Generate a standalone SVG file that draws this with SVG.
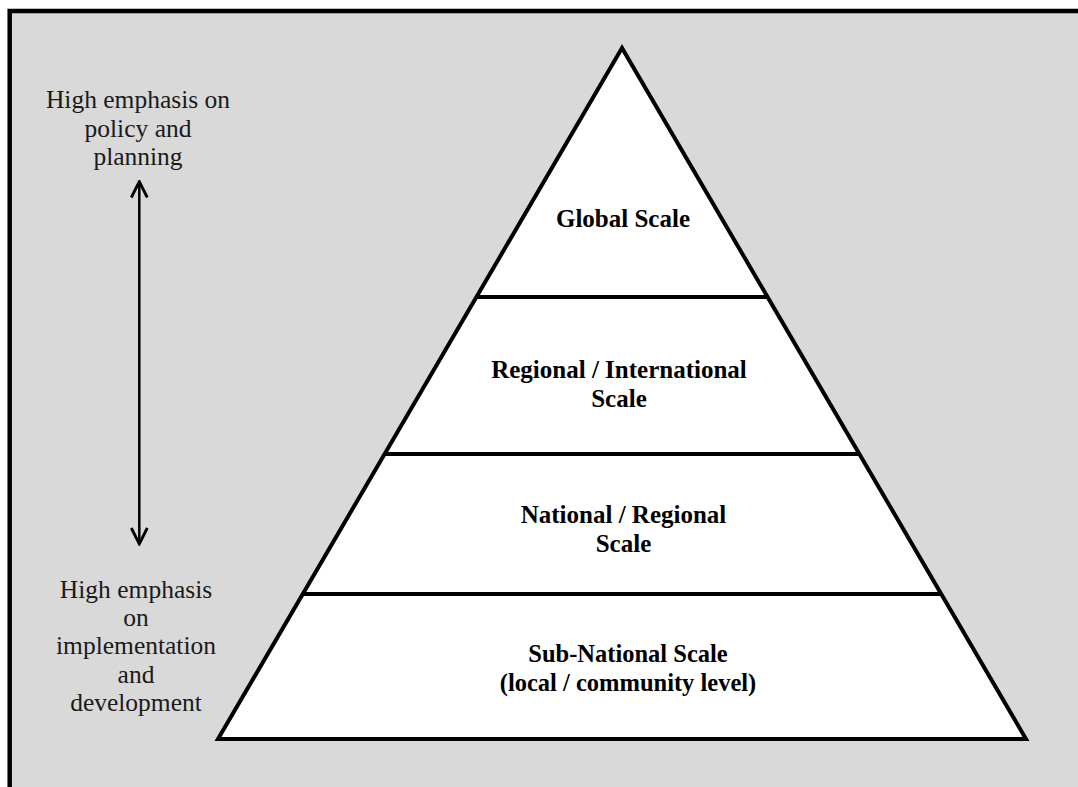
<svg xmlns="http://www.w3.org/2000/svg" width="1078" height="787" viewBox="0 0 1078 787">
<style>
.side{font-family:"Liberation Serif","Times New Roman",serif;font-size:25.5px;fill:#1a1a1a;text-anchor:middle}
.lbl{font-family:"Liberation Serif","Times New Roman",serif;font-size:25px;font-weight:bold;fill:#000;text-anchor:middle}
.ln{stroke:#000;stroke-width:4;fill:none}
</style>
<defs>
<marker id="ah" viewBox="0 0 20 20" refX="18" refY="10" markerWidth="20" markerHeight="20" markerUnits="userSpaceOnUse" orient="auto-start-reverse">
<path d="M2,2 L18,10 L2,18" fill="none" stroke="#000" stroke-width="2.8"/>
</marker>
</defs>
<rect x="0" y="0" width="1078" height="787" fill="#ffffff"/>
<rect x="10" y="11" width="1068" height="776" fill="#d9d9d9"/>
<path d="M9.7,787 V11 H1078" fill="none" stroke="#000" stroke-width="4.5"/>
<g id="pyramid">
<polygon points="622,48 218,739 1026,739" fill="#fff" stroke="#000" stroke-width="4" stroke-linejoin="miter"/>
</g>
<g id="dividers">
<line class="ln" x1="476" y1="297" x2="768" y2="297"/>
<line class="ln" x1="385" y1="454" x2="859" y2="454"/>
<line class="ln" x1="303" y1="594" x2="941" y2="594"/>
</g>
<g id="global"><text class="lbl" x="623" y="227">Global Scale</text></g>
<g id="regional"><text class="lbl" x="619" y="378">Regional / International</text><text class="lbl" x="619" y="406.5">Scale</text></g>
<g id="national"><text class="lbl" x="623.5" y="523">National / Regional</text><text class="lbl" x="623.5" y="551.5">Scale</text></g>
<g id="subnational"><text class="lbl" x="628" y="662" style="font-size:24.5px">Sub-National Scale</text><text class="lbl" x="628" y="690.5" style="font-size:24.5px">(local / community level)</text></g>
<g id="top-text"><text class="side" x="138" y="108.3">High emphasis on</text><text class="side" x="138" y="136.7">policy and</text><text class="side" x="138" y="165">planning</text></g>
<g id="bottom-text"><text class="side" x="136" y="597.5">High emphasis</text><text class="side" x="136" y="626">on</text><text class="side" x="136" y="654.3">implementation</text><text class="side" x="136" y="682.7">and</text><text class="side" x="136" y="711">development</text></g>
<g id="connectors">
<line x1="139.3" y1="181.5" x2="139.3" y2="544" stroke="#000" stroke-width="2.5" marker-start="url(#ah)" marker-end="url(#ah)"/>
</g>
</svg>
